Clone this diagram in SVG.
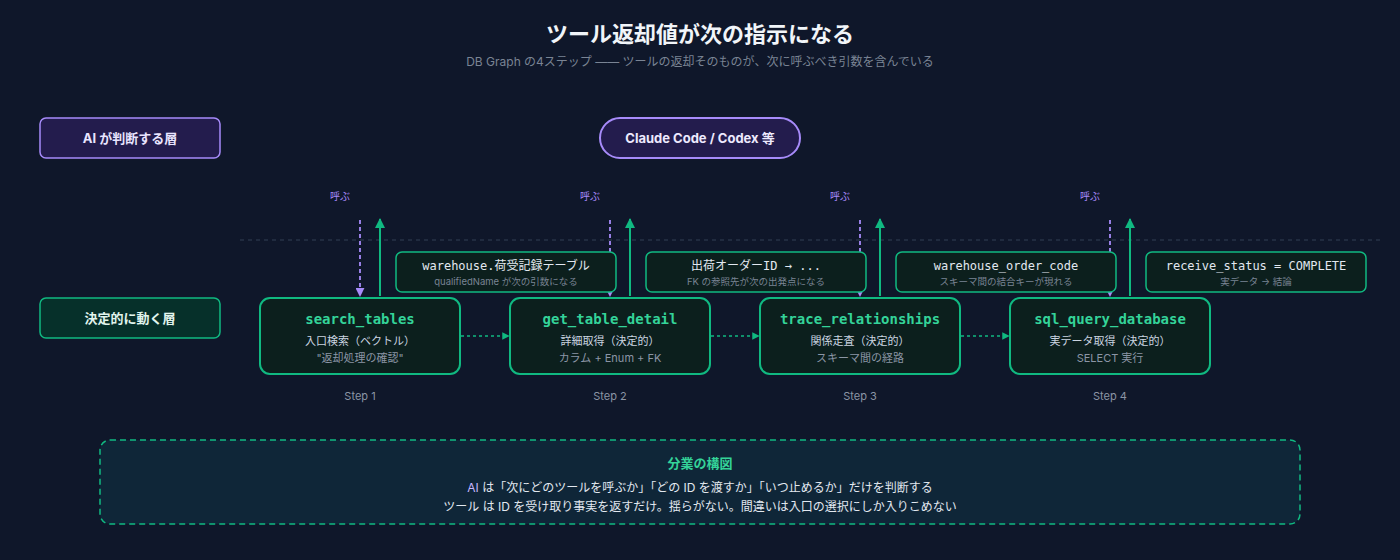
<svg xmlns="http://www.w3.org/2000/svg" width="1400" height="560" viewBox="0 0 1400 560">
<defs>
<style>
text{font-family:Inter,"Noto Sans CJK JP",sans-serif}
.mono{font-family:"DejaVu Sans Mono","Noto Sans CJK JP",monospace}
.step{fill:#0c1f1d;stroke:#10b981;stroke-width:2}
.ret{fill:#0c1f1d;stroke:#10b981;stroke-width:1.5}
.fn{fill:#34d399;font-size:14px;font-weight:bold;text-anchor:middle}
.d1{fill:#cbd5e1;font-size:11px;text-anchor:middle}
.d2{fill:#8b95a5;font-size:11px;text-anchor:middle}
.rt{fill:#e2e8f0;font-size:12px;text-anchor:middle}
.rs{fill:#7a8494;font-size:9.5px;text-anchor:middle}
.lbl{fill:#8b95a5;font-size:11px;text-anchor:middle}
.call{fill:#a78bfa;font-size:10px;text-anchor:middle}
.dn{stroke:#a78bfa;stroke-width:1.8;stroke-dasharray:4 3;fill:none}
.up{stroke:#10b981;stroke-width:2;fill:none}
.nx{stroke:#10b981;stroke-width:1.5;stroke-dasharray:3 3;fill:none}
</style>
<marker id="ap" viewBox="0 0 10 10" refX="9" refY="5" markerWidth="5" markerHeight="5" orient="auto"><path d="M0,0L10,5L0,10z" fill="#a78bfa"/></marker>
<marker id="ag" viewBox="0 0 10 10" refX="9" refY="5" markerWidth="5" markerHeight="5" orient="auto"><path d="M0,0L10,5L0,10z" fill="#10b981"/></marker>
</defs>
<rect width="1400" height="560" fill="#0f172a"/>
<text x="700" y="42" text-anchor="middle" fill="#f1f5f9" font-size="22" font-weight="bold">ツール返却値が次の指示になる</text>
<text x="700" y="66" text-anchor="middle" fill="#7a8494" font-size="12">DB Graph の4ステップ —— ツールの返却そのものが、次に呼ぶべき引数を含んでいる</text>
<g id="layer-ai"><rect x="40" y="118" width="180" height="40" rx="6" fill="#231c4d" stroke="#a78bfa" stroke-width="1.5"/><text x="130" y="143" text-anchor="middle" fill="#e9e5ff" font-size="13" font-weight="bold">AI が判断する層</text></g>
<g id="layer-det"><rect x="40" y="298" width="180" height="40" rx="6" fill="#06302a" stroke="#10b981" stroke-width="1.5"/><text x="130" y="323" text-anchor="middle" fill="#e2f5ee" font-size="13" font-weight="bold">決定的に動く層</text></g>
<g id="claude"><rect x="600" y="118" width="200" height="40" rx="20" fill="#231c4d" stroke="#a78bfa" stroke-width="2"/><text x="700" y="143" text-anchor="middle" fill="#ede9fe" font-size="13" font-weight="bold">Claude Code / Codex 等</text></g>
<line x1="240" y1="240" x2="1380" y2="240" stroke="#334155" stroke-width="1" stroke-dasharray="4 4"/>
<g id="connectors">
<text class="call" x="340" y="200">呼ぶ</text><text class="call" x="590" y="200">呼ぶ</text><text class="call" x="840" y="200">呼ぶ</text><text class="call" x="1090" y="200">呼ぶ</text>
<path class="dn" d="M360,220V296" marker-end="url(#ap)"/><path class="dn" d="M610,220V296" marker-end="url(#ap)"/><path class="dn" d="M860,220V296" marker-end="url(#ap)"/><path class="dn" d="M1110,220V296" marker-end="url(#ap)"/>
<path class="up" d="M380,296V219" marker-end="url(#ag)"/><path class="up" d="M630,296V219" marker-end="url(#ag)"/><path class="up" d="M880,296V219" marker-end="url(#ag)"/><path class="up" d="M1130,296V219" marker-end="url(#ag)"/>
<path class="nx" d="M461,336H509" marker-end="url(#ag)"/><path class="nx" d="M711,336H759" marker-end="url(#ag)"/><path class="nx" d="M961,336H1009" marker-end="url(#ag)"/>
</g>
<g id="ret1"><rect class="ret" x="396" y="252" width="220" height="40" rx="6"/><text class="rt mono" x="506" y="270">warehouse.荷受記録テーブル</text><text class="rs" x="506" y="285">qualifiedName が次の引数になる</text></g>
<g id="ret2"><rect class="ret" x="646" y="252" width="220" height="40" rx="6"/><text class="rt mono" x="756" y="270">出荷オーダーID → ...</text><text class="rs" x="756" y="285">FK の参照先が次の出発点になる</text></g>
<g id="ret3"><rect class="ret" x="896" y="252" width="220" height="40" rx="6"/><text class="rt mono" x="1006" y="270">warehouse_order_code</text><text class="rs" x="1006" y="285">スキーマ間の結合キーが現れる</text></g>
<g id="ret4"><rect class="ret" x="1146" y="252" width="220" height="40" rx="6"/><text class="rt mono" x="1256" y="270">receive_status = COMPLETE</text><text class="rs" x="1256" y="285">実データ → 結論</text></g>
<g id="step1"><rect class="step" x="260" y="298" width="200" height="76" rx="10"/><text class="fn mono" x="360" y="324">search_tables</text><text class="d1" x="360" y="345">入口検索（ベクトル）</text><text class="d2" x="360" y="362">"返却処理の確認"</text><text class="lbl" x="360" y="400">Step 1</text></g>
<g id="step2"><rect class="step" x="510" y="298" width="200" height="76" rx="10"/><text class="fn mono" x="610" y="324">get_table_detail</text><text class="d1" x="610" y="345">詳細取得（決定的）</text><text class="d2" x="610" y="362">カラム + Enum + FK</text><text class="lbl" x="610" y="400">Step 2</text></g>
<g id="step3"><rect class="step" x="760" y="298" width="200" height="76" rx="10"/><text class="fn mono" x="860" y="324">trace_relationships</text><text class="d1" x="860" y="345">関係走査（決定的）</text><text class="d2" x="860" y="362">スキーマ間の経路</text><text class="lbl" x="860" y="400">Step 3</text></g>
<g id="step4"><rect class="step" x="1010" y="298" width="200" height="76" rx="10"/><text class="fn mono" x="1110" y="324">sql_query_database</text><text class="d1" x="1110" y="345">実データ取得（決定的）</text><text class="d2" x="1110" y="362">SELECT 実行</text><text class="lbl" x="1110" y="400">Step 4</text></g>
<g id="summary"><rect x="100" y="440" width="1200" height="84" rx="10" fill="#0f2638" stroke="#10b981" stroke-width="1.5" stroke-dasharray="6 4"/>
<text x="700" y="468" text-anchor="middle" fill="#34d399" font-size="13" font-weight="bold">分業の構図</text>
<text x="700" y="492" text-anchor="middle" fill="#e2e8f0" font-size="12"><tspan fill="#c4b5fd">AI</tspan> は「次にどのツールを呼ぶか」「どの ID を渡すか」「いつ止めるか」だけを判断する</text>
<text x="700" y="511" text-anchor="middle" fill="#e2e8f0" font-size="12">ツール は ID を受け取り事実を返すだけ。揺らがない。間違いは入口の選択にしか入りこめない</text></g>
</svg>
